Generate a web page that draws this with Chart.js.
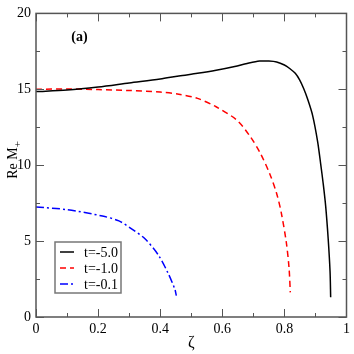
<!DOCTYPE html>
<html lang="en">
<head>
    <meta charset="UTF-8">
    <title>Re M+ vs zeta</title>
    <script src="https://cdn.jsdelivr.net/npm/chart.js"></script>
    <style>
        body { margin: 0; background: #fff; }
        #wrap { width: 354px; height: 354px; }
    </style>
</head>
<body>
    <div id="wrap">
        <canvas id="chart" width="354" height="354"></canvas>
    </div>
    <script>
        // values
        const seriesLabels = ['t=-5.0', 't=-1.0', 't=-0.1'];

        const zetaA = [0, 0.1, 0.2, 0.3, 0.4, 0.46, 0.52, 0.58, 0.64, 0.68, 0.72, 0.75, 0.775, 0.8, 0.817, 0.835, 0.849, 0.862, 0.875, 0.891, 0.907, 0.917, 0.925, 0.933, 0.941, 0.947, 0.949];
        const reA   = [14.85, 14.95, 15.15, 15.42, 15.68, 15.88, 16.05, 16.25, 16.5, 16.7, 16.86, 16.86, 16.8, 16.6, 16.37, 16.05, 15.62, 15.05, 14.34, 13.27, 11.56, 10.06, 8.78, 7.29, 5.15, 3.01, 1.3];

        const zetaB = [0, 0.1, 0.2, 0.3, 0.4, 0.46, 0.52, 0.58, 0.648, 0.69, 0.722, 0.753, 0.775, 0.79, 0.806, 0.815, 0.819];
        const reB   = [15.0, 15.02, 14.98, 14.92, 14.82, 14.68, 14.4, 13.85, 12.95, 11.88, 10.81, 9.42, 8.14, 6.86, 4.94, 3.22, 1.62];

        const zetaC = [0, 0.1, 0.214, 0.267, 0.309, 0.351, 0.394, 0.425, 0.447, 0.452];
        const reC   = [7.25, 7.07, 6.65, 6.33, 5.79, 5.15, 4.08, 2.9, 1.84, 1.41];

        const xTicks = [0, 0.2, 0.4, 0.6, 0.8, 1];
        const yTicks = [0, 5, 10, 15, 20];

        const FONT = "'Liberation Serif', 'Times New Roman', serif";
        const AXIS_COLOR = '#555';

        function pts(xs, ys) {
            return xs.map((x, i) => ({ x: x, y: ys[i] }));
        }

        // ticks pointing inward on all four sides, plus the frame, legend and labels
        const decorations = {
            id: 'decorations',
            afterDraw(chart) {
                const ctx = chart.ctx;
                const a = chart.chartArea;
                const xs = chart.scales.x, ys = chart.scales.y;
                ctx.save();
                ctx.strokeStyle = AXIS_COLOR;
                ctx.lineWidth = 1.5;
                ctx.strokeRect(a.left, a.top, a.right - a.left, a.bottom - a.top);

                ctx.lineWidth = 1;
                ctx.beginPath();
                for (let v = 0; v <= 1.0001; v += 0.1) {
                    const p = Math.round(xs.getPixelForValue(v)) + 0.5;
                    const len = (Math.round(v * 10) % 2 === 0) ? 8 : 4;
                    ctx.moveTo(p, a.bottom); ctx.lineTo(p, a.bottom - len);
                    ctx.moveTo(p, a.top); ctx.lineTo(p, a.top + len);
                }
                for (let v = 0; v <= 20.001; v += 2.5) {
                    const p = Math.round(ys.getPixelForValue(v)) + 0.5;
                    const len = (Math.round(v * 2) % 10 === 0) ? 8 : 4;
                    ctx.moveTo(a.left, p); ctx.lineTo(a.left + len, p);
                    ctx.moveTo(a.right, p); ctx.lineTo(a.right - len, p);
                }
                ctx.stroke();

                // panel tag
                ctx.fillStyle = '#000';
                ctx.font = 'bold 14px ' + FONT;
                ctx.textAlign = 'center';
                ctx.textBaseline = 'middle';
                ctx.fillText('(a)', xs.getPixelForValue(0.14), ys.getPixelForValue(18.4));

                // axis titles
                ctx.font = '16px ' + FONT;
                ctx.fillText('\u03B6', (a.left + a.right) / 2, 343);
                ctx.save();
                ctx.translate(12, 160);
                ctx.rotate(-Math.PI / 2);
                ctx.font = '14px ' + FONT;
                ctx.textAlign = 'left';
                ctx.textBaseline = 'alphabetic';
                const main = 'Re M';
                const w = ctx.measureText(main).width;
                ctx.font = '11px ' + FONT;
                const ws = ctx.measureText('+').width;
                const x0 = -(w + ws) / 2;
                ctx.font = '14px ' + FONT;
                ctx.fillText(main, x0, 5);
                ctx.font = '11px ' + FONT;
                ctx.fillText('+', x0 + w, 9);
                ctx.restore();

                // legend box
                const bx = 55, by = 242, bw = 66, bh = 51;
                ctx.fillStyle = '#fff';
                ctx.fillRect(bx, by, bw, bh);
                ctx.strokeStyle = '#777';
                ctx.lineWidth = 1.5;
                ctx.strokeRect(bx, by, bw, bh);
                chart.data.datasets.forEach((ds, i) => {
                    const yy = by + 10 + i * 16;
                    ctx.strokeStyle = ds.borderColor;
                    ctx.lineWidth = ds.borderWidth;
                    ctx.setLineDash(ds.borderDash || []);
                    ctx.beginPath();
                    ctx.moveTo(bx + 5, yy); ctx.lineTo(bx + 19, yy);
                    ctx.stroke();
                    ctx.setLineDash([]);
                    ctx.fillStyle = '#000';
                    ctx.font = '14px ' + FONT;
                    ctx.textAlign = 'left';
                    ctx.textBaseline = 'middle';
                    ctx.fillText(ds.label, bx + 29, yy + 1);
                });
                ctx.restore();
            }
        };

        const ctx = document.getElementById('chart').getContext('2d');
        new Chart(ctx, {
            type: 'line',
            data: {
                datasets: [{
                    label: seriesLabels[0],
                    data: pts(zetaA, reA),
                    borderColor: '#000',
                    borderWidth: 1.5
                }, {
                    label: seriesLabels[1],
                    data: pts(zetaB, reB),
                    borderColor: '#ff0000',
                    borderWidth: 1.5,
                    borderDash: [6, 4]
                }, {
                    label: seriesLabels[2],
                    data: pts(zetaC, reC),
                    borderColor: '#0000ff',
                    borderWidth: 1.5,
                    borderDash: [8, 3, 2, 3]
                }]
            },
            options: {
                responsive: false,
                animation: false,
                events: [],
                layout: { padding: { top: 5, right: 4, left: 0, bottom: 0 } },
                elements: {
                    point: { radius: 0 },
                    line: { tension: 0.3, fill: false }
                },
                plugins: { legend: { display: false }, tooltip: { enabled: false } },
                scales: {
                    x: {
                        type: 'linear',
                        min: 0, max: 1,
                        afterFit(s) { s.height = 37; },
                        afterBuildTicks(s) { s.ticks = xTicks.map(v => ({ value: v })); },
                        grid: { display: false, drawTicks: false },
                        border: { display: false },
                        ticks: {
                            autoSkip: false, maxRotation: 0, padding: 4,
                            callback: v => String(v),
                            color: '#000', font: { family: FONT, size: 14 }
                        }
                    },
                    y: {
                        min: 0, max: 20,
                        afterFit(s) { s.width = 36; },
                        afterBuildTicks(s) { s.ticks = yTicks.map(v => ({ value: v })); },
                        grid: { display: false, drawTicks: false },
                        border: { display: false },
                        ticks: {
                            autoSkip: false, padding: 5,
                            callback: v => String(v),
                            color: '#000', font: { family: FONT, size: 14 }
                        }
                    }
                }
            },
            plugins: [decorations]
        });
    </script>
</body>
</html>
